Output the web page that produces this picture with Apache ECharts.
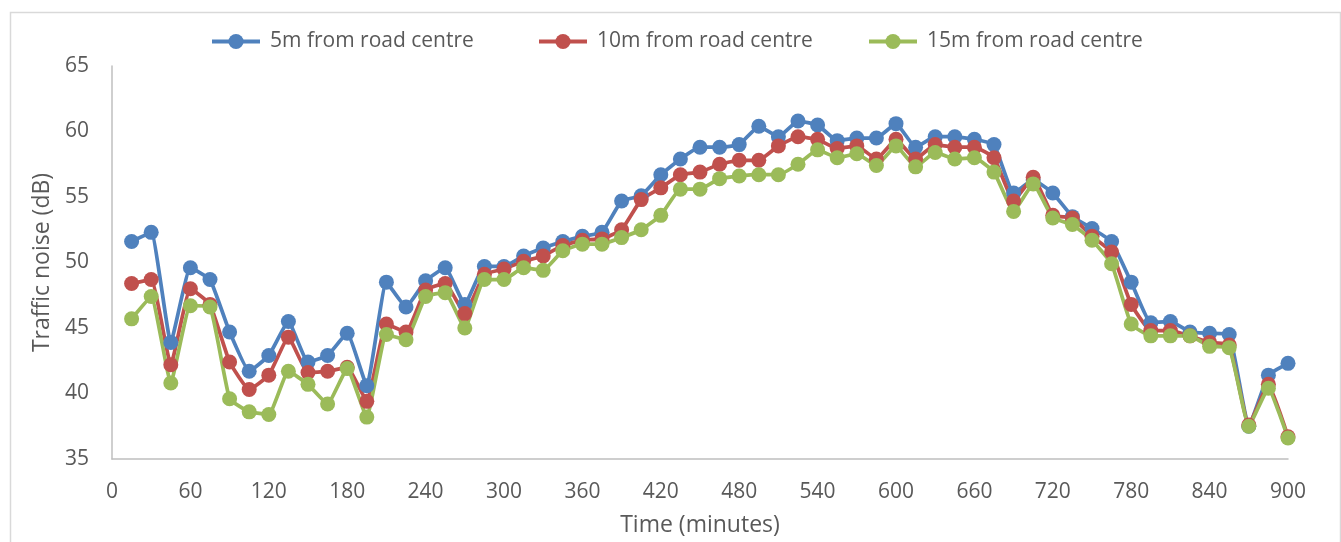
<!DOCTYPE html>
<html>
<head>
<meta charset="utf-8">
<script src="https://cdn.jsdelivr.net/npm/echarts@6/dist/echarts.min.js"></script>
<style>
html,body{margin:0;padding:0;background:#fff;}
#chart{width:1341px;height:542px;}
</style>
</head>
<body>
<div id="chart"></div>
<script>
// Time in minutes (every 15 min)
const times = [15,30,45,60,75,90,105,120,135,150,165,180,195,210,225,240,255,270,285,300,
  315,330,345,360,375,390,405,420,435,450,465,480,495,510,525,540,555,570,585,600,
  615,630,645,660,675,690,705,720,735,750,765,780,795,810,825,840,855,870,885,900];

const names = ['5m from road centre','10m from road centre','15m from road centre'];

const noise5m = [51.6,52.3,43.9,49.6,48.7,44.7,41.7,42.9,45.5,42.4,42.9,44.6,40.6,48.5,46.6,48.6,49.6,46.8,49.7,49.7,
  50.5,51.1,51.6,52.0,52.3,54.7,55.1,56.7,57.9,58.8,58.8,59.0,60.4,59.6,60.8,60.5,59.3,59.5,59.5,60.6,
  58.8,59.6,59.6,59.4,59.0,55.3,56.3,55.3,53.5,52.6,51.6,48.5,45.4,45.5,44.7,44.6,44.5,37.5,41.4,42.3];

const noise10m = [48.4,48.7,42.2,48.0,46.8,42.4,40.3,41.4,44.3,41.6,41.7,42.0,39.4,45.3,44.7,47.9,48.4,46.1,49.1,49.5,
  50.1,50.5,51.3,51.7,51.8,52.5,54.8,55.7,56.7,56.9,57.5,57.8,57.8,58.9,59.6,59.4,58.7,58.9,57.9,59.4,
  57.9,59.0,58.8,58.8,58.0,54.7,56.5,53.6,53.4,52.0,50.8,46.8,44.8,44.8,44.4,43.9,43.7,37.6,40.7,36.7];

const noise15m = [45.7,47.4,40.8,46.7,46.6,39.6,38.6,38.4,41.7,40.7,39.2,41.9,38.2,44.5,44.1,47.4,47.7,45.0,48.7,48.7,
  49.6,49.4,50.9,51.4,51.4,51.9,52.5,53.6,55.6,55.6,56.4,56.6,56.7,56.7,57.5,58.6,58.0,58.3,57.4,58.9,
  57.3,58.4,57.9,58.0,56.9,53.9,56.0,53.4,52.9,51.7,49.9,45.3,44.4,44.4,44.4,43.6,43.5,37.5,40.4,36.6];

const xTicks = {min:0, max:900, interval:60};
const yTicks = {min:35, max:65, interval:5};

const colors = ['#4F81BD','#C0504D','#9BBB59'];
const seriesValues = [noise5m, noise10m, noise15m];

const txt = '#595959';
const fontFam = '"Open Sans", "Noto Sans", sans-serif';

const chart = echarts.init(document.getElementById('chart'), null, {renderer:'canvas'});

const legendLefts = [210, 537, 867];
const legends = names.map((n,i)=>({
  data:[n], left: legendLefts[i], top: 31, padding:0,
  itemWidth: 48, itemHeight: 19, itemGap: 0,
  lineStyle:{width:4},
  textStyle:{color:txt, fontSize:21, fontFamily:fontFam, padding:[0,0,0,5]}
}));

const series = names.map((n,i)=>({
  name:n, type:'line',
  data: times.map((t,j)=>[t, seriesValues[i][j]]),
  symbol:'circle', symbolSize:15,
  smooth:0.12,
  lineStyle:{width:3.75, color:colors[i]},
  itemStyle:{color:colors[i]},
  emphasis:{disabled:true},
  animation:false
}));

chart.setOption({
  animation:false,
  color: colors,
  graphic:[{
    type:'rect', left:8, top:10, silent:true,
    shape:{width:1330, height:560},
    style:{fill:'none', stroke:'#D9D9D9', lineWidth:1.5}
  }],
  legend: legends,
  grid:{left:112, right:53, top:66, bottom:82, containLabel:false},
  xAxis:{
    type:'value', min:xTicks.min, max:xTicks.max, interval:xTicks.interval,
    name:'Time (minutes)', nameLocation:'middle', nameGap:55,
    nameTextStyle:{color:txt, fontSize:23, fontFamily:fontFam},
    axisLine:{show:true, lineStyle:{color:'#BFBFBF', width:1.5}},
    axisTick:{show:false},
    splitLine:{show:false},
    axisLabel:{color:txt, fontSize:21, fontFamily:fontFam, margin:23}
  },
  yAxis:{
    type:'value', min:yTicks.min, max:yTicks.max, interval:yTicks.interval,
    name:'Traffic noise (dB)', nameLocation:'middle', nameGap:56,
    nameTextStyle:{color:txt, fontSize:23, fontFamily:fontFam},
    axisLine:{show:true, lineStyle:{color:'#BFBFBF', width:1.5}},
    axisTick:{show:false},
    splitLine:{show:false},
    axisLabel:{color:txt, fontSize:21, fontFamily:fontFam, margin:23}
  },
  series: series
});
</script>
</body>
</html>
